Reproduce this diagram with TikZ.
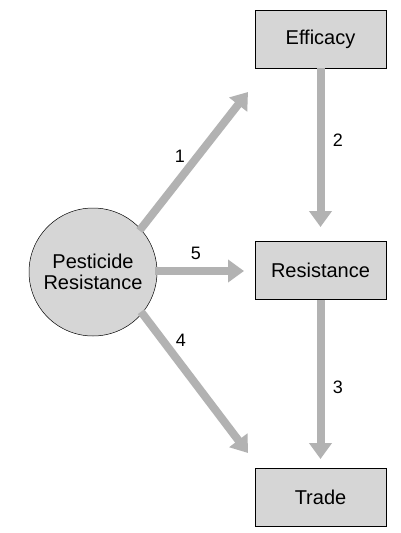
\documentclass[tikz,border=0pt]{standalone}
\usepackage{fontspec}
\setmainfont{Liberation Sans}
\usetikzlibrary{arrows.meta}
\definecolor{boxfill}{HTML}{D6D6D6}
\definecolor{arrowgray}{HTML}{B2B2B2}
\begin{document}
\begin{tikzpicture}[x=1pt,y=-1pt,
  box/.style={draw=black,line width=0.6pt,fill=boxfill,minimum width=131pt,minimum height=58pt,inner sep=0pt,font=\fontsize{20}{22}\selectfont},
  hub/.style={circle,draw=black,line width=0.5pt,fill=boxfill,minimum size=128pt,inner sep=0pt,align=center,font=\fontsize{20}{21}\selectfont},
  flow/.style={draw=arrowgray,line width=8pt,-{Triangle[length=16pt,width=22pt]},arrowgray},
  num/.style={font=\fontsize{18}{20}\selectfont}]
\useasboundingbox (0,0) rectangle (400,533);
\fill[white] (0,0) rectangle (400,533);
\node[box] (eff) at (320.5,39) {Efficacy};
\node[box] (res) at (320.5,270.5) {Resistance};
\node[box] (trade) at (320.5,497.5) {Trade};
\node[hub] (pr) at (93,272) {Pesticide\\Resistance};
\coordinate (t1) at (248,92);
\coordinate (t5) at (244,271);
\coordinate (t4) at (248,453);
\coordinate (t2) at (320.5,227);
\coordinate (t3) at (320.5,459);
\draw[flow,shorten <=-2pt] (pr.42) -- (t1);
\draw[flow,shorten <=-2pt] (pr.east |- t5) -- (t5);
\draw[flow,shorten <=-2pt] (pr.-40) -- (t4);
\draw[flow] (eff.south) -- (t2);
\draw[flow] (res.south) -- (t3);
\node[num] (n1) at (180,156) {1};
\node[num] (n2) at (338,140) {2};
\node[num] (n5) at (196,253) {5};
\node[num] (n4) at (181,340) {4};
\node[num] (n3) at (338,387) {3};
\end{tikzpicture}
\end{document}
